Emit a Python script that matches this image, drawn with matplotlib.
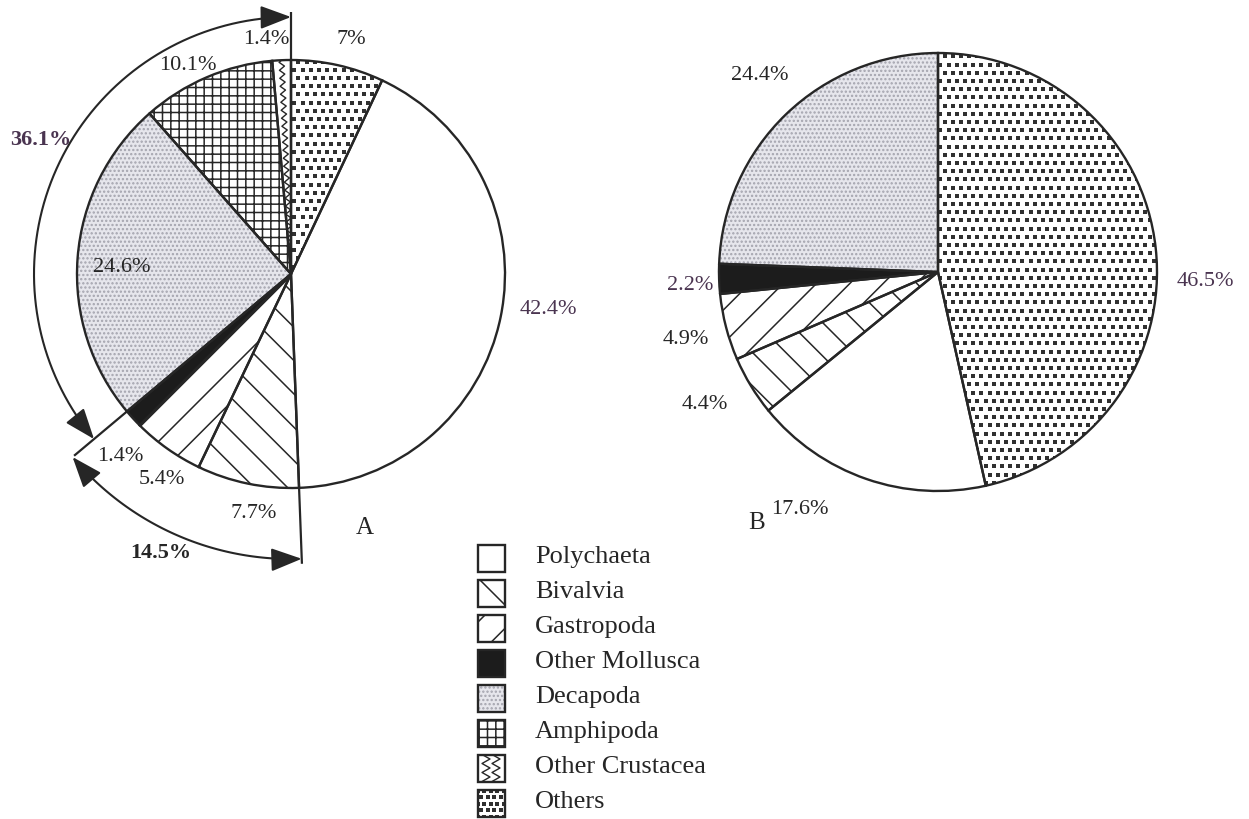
import matplotlib.pyplot as plt
import numpy as np
from matplotlib.patches import Rectangle, FancyArrowPatch
from matplotlib.path import Path

categories = ["Polychaeta", "Bivalvia", "Gastropoda", "Other Mollusca",
              "Decapoda", "Amphipoda", "Other Crustacea", "Others"]
share_a = [42.4, 7.7, 5.4, 1.4, 24.6, 10.1, 1.4, 7.0]
share_b = [17.6, 4.4, 4.9, 2.2, 24.4, 0.0, 0.0, 46.5]
mollusca = ["Bivalvia", "Gastropoda", "Other Mollusca"]
crustacea = ["Decapoda", "Amphipoda", "Other Crustacea"]

# slices start at 12 o'clock with "Others" and run clockwise
order = [7, 0, 1, 2, 3, 4, 5, 6]

INK = "#262626"
W, H = 1249, 820

plt.rcParams["font.family"] = ["Liberation Serif", "DejaVu Serif"]
plt.rcParams["hatch.linewidth"] = 1.1

styles = {
    "Polychaeta": dict(fc="white", hatch=None, hc=INK),
    "Bivalvia": dict(fc="white", hatch="\\", hc=INK),
    "Gastropoda": dict(fc="white", hatch="/", hc=INK),
    "Other Mollusca": dict(fc="#1c1c1c", hatch=None, hc=INK),
    "Decapoda": dict(fc="#e6e6ec", hatch="....", hc="#a4a4ae"),
    "Amphipoda": dict(fc="white", hatch="++", hc=INK),
    "Other Crustacea": dict(fc="white", hatch=None, hc=INK),
    "Others": dict(fc="white", hatch=None, hc=INK),
}


def Y(y):
    # layout is written top-down, axes run bottom-up
    return H - y


fig = plt.figure(figsize=(W / 100, H / 100), dpi=100)
ax = fig.add_axes([0, 0, 1, 1])


def stipple(patch, x0, x1, y0, y1, step=8.2, size=7, color="#303030"):
    # staggered dot texture clipped to a patch
    ys = np.arange(y0, y1 + step, step)
    pts = []
    for k, yy in enumerate(ys):
        xs = np.arange(x0 + (step / 2 if k % 2 else 0), x1 + step, step)
        pts += [(x, yy) for x in xs]
    pts = np.array(pts)
    sc = ax.scatter(pts[:, 0], pts[:, 1], s=size, marker="s", color=color,
                    linewidths=0)
    sc.set_clip_path(patch)


def zigzag(patch, x, y):
    ln, = ax.plot(x, y, color=INK, lw=1.0)
    ln.set_clip_path(patch)


def draw_pie(shares, center, radius):
    names = [categories[i] for i in order if shares[i] > 0]
    vals = [shares[i] for i in order if shares[i] > 0]
    fills, _ = ax.pie(vals, center=center, radius=radius, startangle=90,
                      counterclock=False, wedgeprops=dict(linewidth=0))
    for w, n in zip(fills, names):
        st = styles[n]
        w.set_facecolor(st["fc"])
        w.set_edgecolor(st["hc"])
        w.set_linewidth(0)
        if st["hatch"]:
            w.set_hatch(st["hatch"])
        if n == "Others":
            stipple(w, center[0] - radius, center[0] + radius,
                    center[1] - radius, center[1] + radius)
        if n == "Other Crustacea":
            th = np.deg2rad((w.theta1 + w.theta2) / 2)
            r = np.arange(0, radius + 6, 4.0)
            off = np.where(np.arange(len(r)) % 2 == 0, -2.6, 2.6)
            zigzag(w, center[0] + r * np.cos(th) - off * np.sin(th),
                   center[1] + r * np.sin(th) + off * np.cos(th))
    ax.pie(vals, center=center, radius=radius, startangle=90,
           counterclock=False,
           wedgeprops=dict(fill=False, edgecolor=INK, linewidth=1.7))
    return names, vals


def angle_at(names, vals, name):
    # boundary angle (pie convention) where a category starts
    cum = 0.0
    for n, v in zip(names, vals):
        if n == name:
            break
        cum += v
    return 90 - 3.6 * cum


def polar(center, r, deg):
    t = np.deg2rad(deg)
    return center[0] + r * np.cos(t), center[1] + r * np.sin(t)


# ---- pie A
ca, ra = (291, Y(275)), 214
names_a, vals_a = draw_pie(share_a, ca, ra)

t_top = 90.0
t_crus = angle_at(names_a, vals_a, crustacea[0]) + 360
t_moll = angle_at(names_a, vals_a, mollusca[0]) + 360

# radial leader lines
for t, r_out in [(t_top, 262), (t_crus, 283), (t_moll, 290)]:
    x0, y0 = polar(ca, ra, t)
    x1, y1 = polar(ca, r_out, t)
    ax.plot([x0, x1], [y0, y1], color=INK, lw=1.6, solid_capstyle="butt")


def arc_arrow(center, r, t0, t1):
    tt = np.linspace(t0, t1, 80)
    verts = np.column_stack(polar(center, r, tt))
    arr = FancyArrowPatch(path=Path(verts),
                          arrowstyle="<|-|>,head_length=0.95,head_width=0.36",
                          mutation_scale=20, color=INK, lw=1.5)
    ax.add_patch(arr)


arc_arrow(ca, 257, t_crus, t_top)
arc_arrow(ca, 285, t_crus, t_moll)

crus_total = sum(share_a[categories.index(n)] for n in crustacea)
moll_total = sum(share_a[categories.index(n)] for n in mollusca)

# ---- pie B
cb, rb = (938, Y(273)), 219
names_b, vals_b = draw_pie(share_b, cb, rb)

# ---- value labels
idx = categories.index
labels_a = [
    ("Others", 351, 40), ("Other Crustacea", 266, 40), ("Amphipoda", 188, 65),
    ("Decapoda", 122, 267), ("Polychaeta", 548, 310),
    ("Other Mollusca", 120, 457), ("Gastropoda", 162, 480),
    ("Bivalvia", 254, 513),
]
labels_b = [
    ("Decapoda", 760, 75), ("Others", 1205, 282), ("Other Mollusca", 690, 285),
    ("Gastropoda", 686, 340), ("Bivalvia", 705, 405), ("Polychaeta", 800, 510),
]
for name, x, y in labels_a:
    col = "#4a3450" if name == "Polychaeta" else INK
    ax.text(x, Y(y), f"{share_a[idx(name)]:g}%", fontsize=16, color=col,
            ha="center", va="center")
for name, x, y in labels_b:
    col = "#4a3450" if name in ("Other Mollusca", "Others") else INK
    ax.text(x, Y(y), f"{share_b[idx(name)]:g}%", fontsize=16, color=col,
            ha="center", va="center")

ax.text(41, Y(140), f"{crus_total:.1f}%", fontsize=16, fontweight="bold",
        color="#4a3450", ha="center", va="center")
ax.text(161, Y(553), f"{moll_total:.1f}%", fontsize=16, fontweight="bold",
        color=INK, ha="center", va="center")
ax.text(365, Y(528), "A", fontsize=18, color=INK, ha="center", va="center")
ax.text(757, Y(523), "B", fontsize=18, color=INK, ha="center", va="center")

# ---- legend
for i, name in enumerate(categories):
    yc = 559 + 35 * i
    st = styles[name]
    x0, y0, s = 478, Y(yc) - 13.5, 27
    sw = Rectangle((x0, y0), s, s, facecolor=st["fc"], edgecolor=st["hc"],
                   linewidth=0, hatch=st["hatch"])
    ax.add_patch(sw)
    if name == "Other Crustacea":
        for cx in (x0 + 8, x0 + 18):
            yy = np.linspace(y0, y0 + s, 7)
            xx = np.where(np.arange(7) % 2 == 0, cx - 4, cx + 4)
            zigzag(sw, xx, yy)
    if name == "Others":
        stipple(sw, x0, x0 + s, y0, y0 + s, step=6.5, size=12)
    ax.add_patch(Rectangle((x0, y0), s, s, fill=False, edgecolor=INK,
                           linewidth=1.7))
    ax.text(535, Y(yc - 2), name, fontsize=19, color=INK, ha="left",
            va="center")

ax.set_xlim(0, W)
ax.set_ylim(0, H)
ax.set_aspect("equal")
ax.axis("off")
fig.savefig("out.png", dpi=100, facecolor="white")
